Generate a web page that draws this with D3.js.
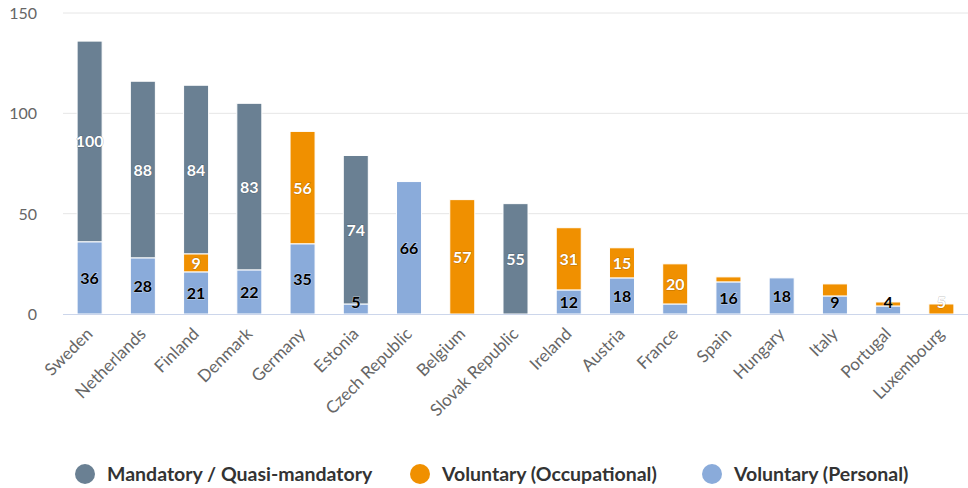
<!DOCTYPE html>
<html>
<head>
<meta charset="utf-8">
<script src="https://cdn.jsdelivr.net/npm/d3@7"></script>
<style>
  body { margin: 0; background: #fff; }
  svg { display: block; font-family: Lato, "Open Sans", sans-serif; }
</style>
</head>
<body>
<svg id="chart" width="968" height="488"></svg>
<script>
const countries = ["Sweden", "Netherlands", "Finland", "Denmark", "Germany", "Estonia", "Czech Republic",
  "Belgium", "Slovak Republic", "Ireland", "Austria", "France", "Spain", "Hungary", "Italy", "Portugal", "Luxembourg"];
const personal     = [36, 28, 21, 22, 35, 5, 66, 0, 0, 12, 18, 5, 16, 18, 9, 4, 0];
const occupational = [0, 0, 9, 0, 56, 0, 0, 57, 0, 31, 15, 20, 2.5, 0, 6, 2, 5];
const mandatory    = [100, 88, 84, 83, 0, 74, 0, 0, 55, 0, 0, 0, 0, 0, 0, 0, 0];
const yTicks = [0, 50, 100, 150];
// labels the original chart leaves out
const hiddenLabels = ["France|personal", "Spain|occupational", "Italy|occupational", "Portugal|occupational"];

const series = [
  { key: "personal", name: "Voluntary (Personal)", values: personal, color: "#8aabda", text: "#000" },
  { key: "occupational", name: "Voluntary (Occupational)", values: occupational, color: "#f09000", text: "#fff" },
  { key: "mandatory", name: "Mandatory / Quasi-mandatory", values: mandatory, color: "#6a8093", text: "#fff" }
];
const legendOrder = ["mandatory", "occupational", "personal"];

const svg = d3.select("#chart");
const plot = { left: 63, right: 968, top: 13, bottom: 314 };

const x = d3.scaleBand()
  .domain(countries)
  .range([plot.left, plot.right])
  .paddingInner(0.53)
  .paddingOuter(0.265);

const y = d3.scaleLinear()
  .domain([0, 150])
  .range([plot.bottom, plot.top]);

// grid
svg.append("g")
  .selectAll("line")
  .data(yTicks.filter(d => d > 0))
  .enter().append("line")
  .attr("x1", plot.left).attr("x2", plot.right)
  .attr("y1", d => y(d)).attr("y2", d => y(d))
  .attr("stroke", "#e6e6e6").attr("stroke-width", 1);

// y labels
svg.append("g")
  .selectAll("text")
  .data(yTicks)
  .enter().append("text")
  .attr("x", 37)
  .attr("y", d => y(d) + 6)
  .attr("text-anchor", "end")
  .attr("font-size", 16)
  .attr("fill", "#666")
  .text(d => d);

// stacked data
const rows = countries.map((c, i) => {
  const r = { country: c };
  series.forEach(s => r[s.key] = s.values[i]);
  return r;
});
const stack = d3.stack().keys(series.map(s => s.key));
const stacked = stack(rows);

const layers = svg.append("g")
  .selectAll("g")
  .data(stacked)
  .enter().append("g")
  .attr("fill", (d, i) => series[i].color);

layers.selectAll("rect")
  .data(d => d.filter(p => p[1] - p[0] > 0))
  .enter().append("rect")
  .attr("x", d => x(d.data.country))
  .attr("width", x.bandwidth())
  .attr("y", d => y(d[1]))
  .attr("height", d => y(d[0]) - y(d[1]))
  .attr("stroke", "#fff")
  .attr("stroke-width", 1);

// x axis line
svg.append("line")
  .attr("x1", plot.left).attr("x2", plot.right)
  .attr("y1", plot.bottom + 0.5).attr("y2", plot.bottom + 0.5)
  .attr("stroke", "#ccd6eb").attr("stroke-width", 1);

// x labels
svg.append("g")
  .selectAll("text")
  .data(countries)
  .enter().append("text")
  .attr("transform", d => `translate(${x(d) + x.bandwidth() / 2 + 4},${plot.bottom + 21}) rotate(-45)`)
  .attr("text-anchor", "end")
  .attr("font-size", 17)
  .attr("fill", "#666")
  .text(d => d);

// data labels
const labelG = svg.append("g");
stacked.forEach((layer, si) => {
  const s = series[si];
  layer.forEach(p => {
    const v = p[1] - p[0];
    if (v <= 0) return;
    if (hiddenLabels.includes(p.data.country + "|" + s.key)) return;
    const cy = Math.min(y((p[0] + p[1]) / 2), plot.bottom - 12);
    labelG.append("text")
      .attr("x", x(p.data.country) + x.bandwidth() / 2)
      .attr("y", cy + 6)
      .attr("text-anchor", "middle")
      .attr("font-size", 16)
      .attr("font-weight", "bold")
      .attr("fill", s.text)
      .attr("stroke", s.text === "#fff" ? "rgba(0,0,0,0.25)" : "rgba(255,255,255,0.5)")
      .attr("stroke-width", 1)
      .attr("paint-order", "stroke")
      .text(d3.format("d")(v));
  });
});

// legend
const legendX = [85, 420, 712];
const legend = svg.append("g").attr("transform", "translate(0,474)");
legendOrder.forEach((k, i) => {
  const s = series.find(d => d.key === k);
  const g = legend.append("g").attr("transform", `translate(${legendX[i]},0)`);
  g.append("circle").attr("r", 10).attr("fill", s.color);
  g.append("text")
    .attr("x", 22).attr("y", 7)
    .attr("font-size", 19.5)
    .attr("font-weight", "bold")
    .attr("fill", "#333")
    .text(s.name);
});
</script>
</body>
</html>
